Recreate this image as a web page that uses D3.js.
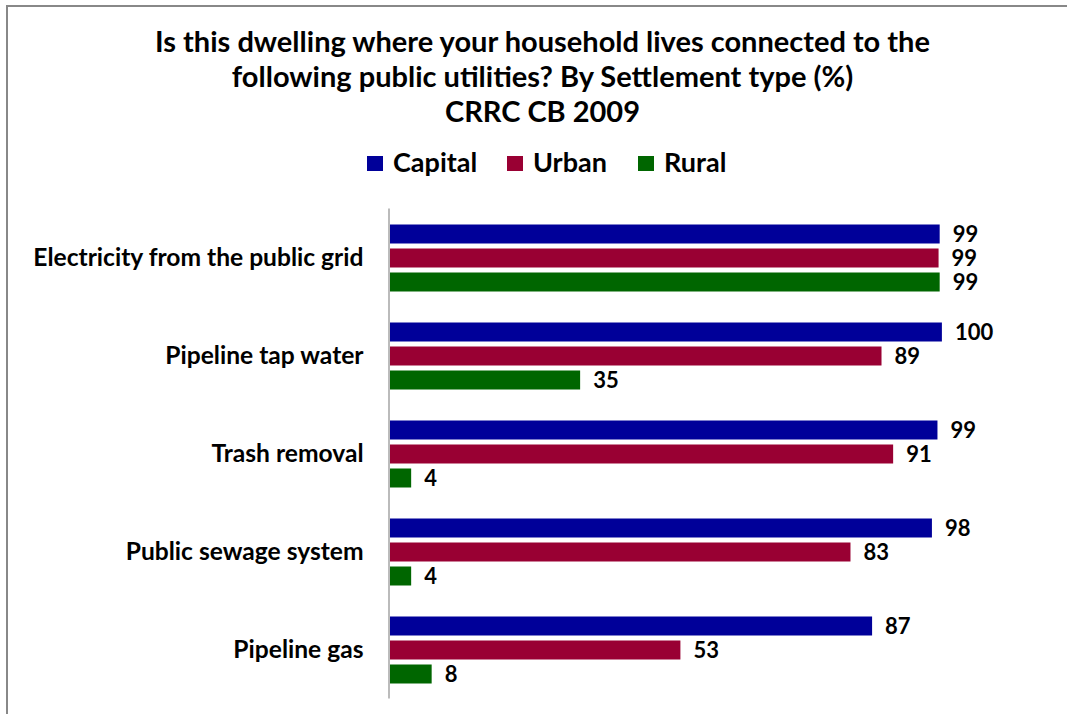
<!DOCTYPE html>
<html><head><meta charset="utf-8">
<script src="https://cdn.jsdelivr.net/npm/d3@7"></script>
<style>body{margin:0;background:#fff}svg{display:block}text{font-family:Lato,"Open Sans",sans-serif;font-weight:bold;fill:#000}</style>
</head><body>
<script>
const categories = ["Electricity from the public grid","Pipeline tap water","Trash removal","Public sewage system","Pipeline gas"];
const seriesNames = ["Capital","Urban","Rural"];
const capital = [99.4, 99.8, 99.0, 98.0, 87.2];
const urban = [99.2, 88.9, 91.0, 83.3, 52.6];
const rural = [99.4, 34.5, 4.0, 4.0, 7.7];
const colors = ["#000099","#990033","#006600"];
const titleLines = ["Is this dwelling where your household lives connected to the","following public utilities? By Settlement type (%)","CRRC CB 2009"];

const W = 1067, H = 714;
const svg = d3.select("body").append("svg").attr("width", W).attr("height", H);
svg.append("rect").attr("x",7).attr("y",6).attr("width",W+10).attr("height",H+10)
  .attr("fill","#fff").attr("stroke","#888").attr("stroke-width",2);

// title
svg.append("g").selectAll("text").data(titleLines).join("text")
  .attr("x",542.5).attr("y",(d,i)=>52+i*35).attr("text-anchor","middle")
  .style("font-size","29px").text(d=>d);

// legend
const legendX = [367, 507, 638];
const lg = svg.append("g").selectAll("g").data(seriesNames).join("g")
  .attr("transform",(d,i)=>`translate(${legendX[i]},156)`);
lg.append("rect").attr("width",16).attr("height",15).attr("fill",(d,i)=>colors[i]);
lg.append("text").attr("x",26).attr("y",16).style("font-size","27px").text(d=>d);

const data = [capital, urban, rural];
const x = d3.scaleLinear().domain([0,100]).range([389,943]);
const y0 = d3.scaleBand().domain(categories).range([208,698]);
const y1 = d3.scaleBand().domain(seriesNames).range([16.5,83.5]).paddingInner(5/24);

const groups = svg.append("g").selectAll("g").data(categories).join("g")
  .attr("transform",d=>`translate(0,${y0(d)})`);
groups.selectAll("rect").data((c,ci)=>seriesNames.map((s,si)=>({s,si,v:data[si][ci]}))).join("rect")
  .attr("x",x(0)).attr("y",d=>y1(d.s)).attr("width",d=>x(d.v)-x(0)).attr("height",y1.bandwidth())
  .attr("fill",d=>colors[d.si]);
groups.selectAll("text.val").data((c,ci)=>seriesNames.map((s,si)=>({s,si,v:data[si][ci]}))).join("text")
  .attr("class","val").attr("x",d=>x(d.v)+13).attr("y",d=>y1(d.s)+y1.bandwidth()/2)
  .attr("dy","0.36em").style("font-size","22px").text(d=>Math.round(d.v));

// axis
const ax = svg.append("g").attr("transform",`translate(${x(0)-0.5},0)`)
  .call(d3.axisLeft(y0).tickSize(0).tickPadding(25));
ax.select(".domain").attr("stroke","#bbb").attr("stroke-width",2);
ax.selectAll("text").style("font-size","24.6px").style("font-family","Lato,sans-serif").attr("dy","0.36em")
  .attr("fill","#000");
</script>
</body></html>
